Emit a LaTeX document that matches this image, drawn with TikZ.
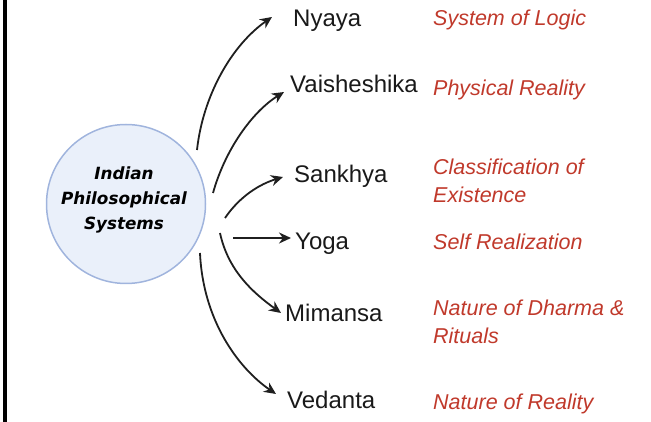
\documentclass[tikz,border=0pt]{standalone}
\usepackage{fontspec}
\usetikzlibrary{arrows.meta}
\newfontfamily\labfont{Liberation Sans}
\newfontfamily\circfont{DejaVu Sans}
\definecolor{redtxt}{RGB}{192,57,43}
\definecolor{circfill}{RGB}{234,240,250}
\definecolor{circline}{RGB}{160,180,221}
\tikzset{
  sysname/.style={anchor=base west, inner sep=0pt, font=\labfont\fontsize{24}{28}\selectfont, text=black!90},
  sysdesc/.style={anchor=base west, inner sep=0pt, align=left, font=\labfont\itshape\fontsize{21.5}{28}\selectfont, text=redtxt},
  conn/.style={line width=1.8pt, black!88, -{Stealth[length=12pt,width=11pt]}},
}
\begin{document}
\begin{tikzpicture}[x=1pt,y=-1pt]
\useasboundingbox (0,0) rectangle (651,422);
\fill[black] (3,0) rectangle (7,422);
\node[circle, draw=circline, line width=1.5pt, fill=circfill, minimum size=159pt, inner sep=0pt] (hub) at (126,204) {};
\node[align=center, inner sep=0pt, font=\circfont\bfseries\itshape\fontsize{16.8}{25}\selectfont] (hubtext) at (124,200) {Indian\\Philosophical\\Systems};
% names
\node[sysname] (nyaya) at (293,27) {Nyaya};
\node[sysname] (vai) at (290,93) {Vaisheshika};
\node[sysname] (san) at (294,183) {Sankhya};
\node[sysname] (yoga) at (295,250) {Yoga};
\node[sysname] (mim) at (285,322) {Mimansa};
\node[sysname] (ved) at (287,408) {Vedanta};
% descriptions
\node[sysdesc] (d1) at (433,26) {System of Logic};
\node[sysdesc] (d2) at (433,96) {Physical Reality};
\node[sysdesc] (d3) at (433,203) {Classification of\\Existence};
\node[sysdesc] (d4) at (433,250) {Self Realization};
\node[sysdesc] (d5) at (433,343) {Nature of Dharma \&\\Rituals};
\node[sysdesc] (d6) at (433,409) {Nature of Reality};
% connector ends
\coordinate (s1) at (197,150); \coordinate (t1) at (272,17);
\coordinate (s2) at (213,193); \coordinate (t2) at (284,92);
\coordinate (s3) at (225,218); \coordinate (t3) at (283,177);
\coordinate (s4) at (233,238); \coordinate (t4) at (291,238);
\coordinate (s5) at (220,233); \coordinate (t5) at (281,313);
\coordinate (s6) at (200,253); \coordinate (t6) at (276,394);
\draw[conn] (s1) .. controls (203,95) and (232,45) .. (t1);
\draw[conn] (s2) .. controls (225,150) and (252,112) .. (t2);
\draw[conn] (s3) .. controls (240,196) and (260,184) .. (t3);
\draw[conn] (s4) -- (t4);
\draw[conn] (s5) .. controls (228,270) and (252,292) .. (t5);
\draw[conn] (s6) .. controls (203,320) and (238,368) .. (t6);
\end{tikzpicture}
\end{document}
